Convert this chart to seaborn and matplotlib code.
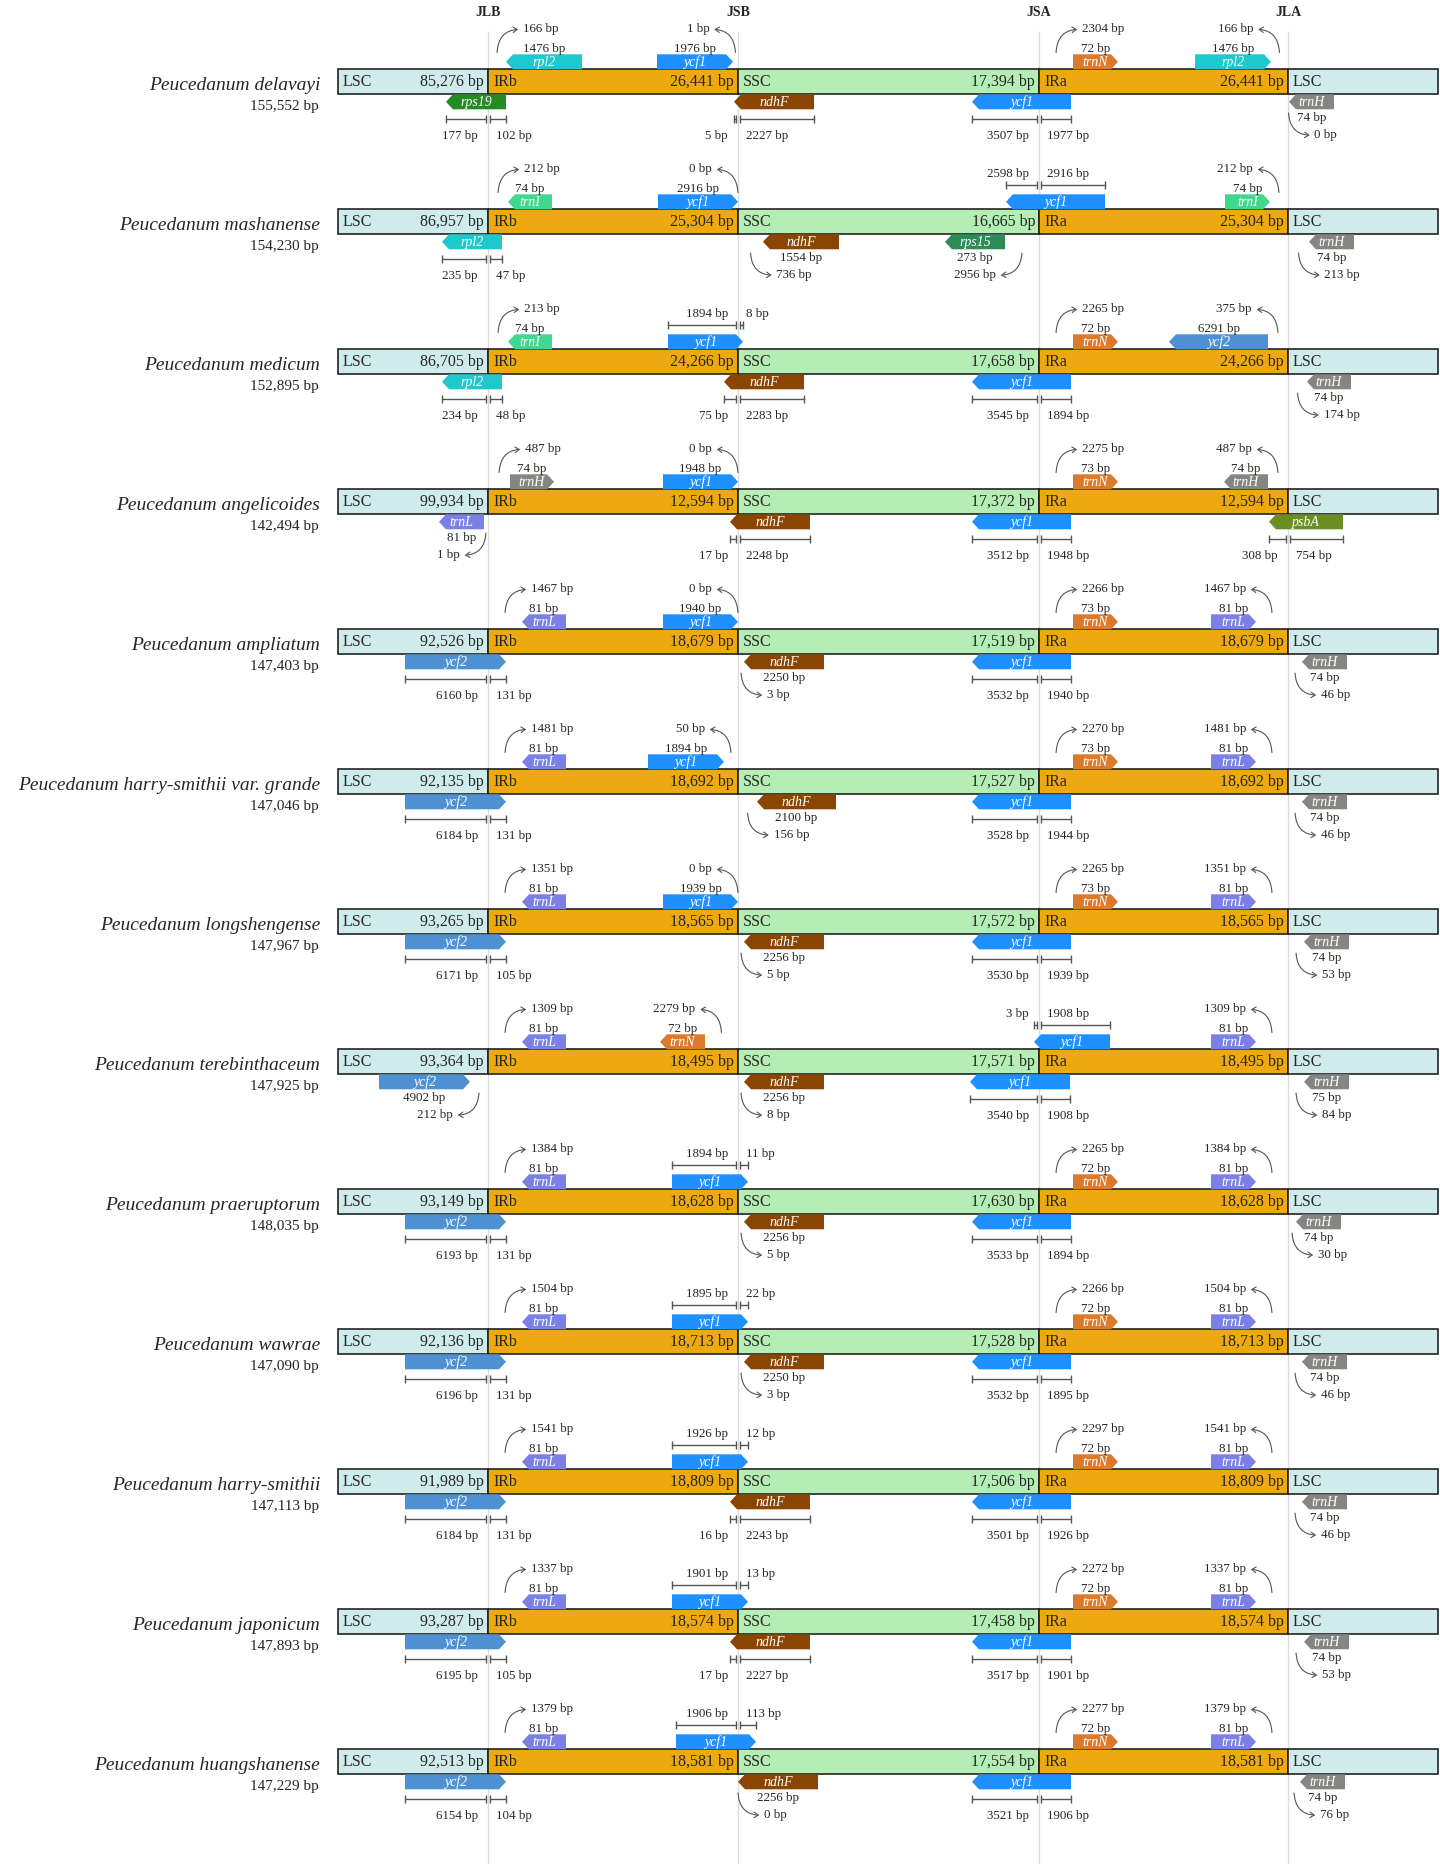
import matplotlib
matplotlib.use("Agg")
import matplotlib.pyplot as plt
from matplotlib.patches import Polygon, FancyArrowPatch
import seaborn as sns

sns.set_theme(style="white")
plt.rcParams['font.family'] = ['Liberation Serif', 'DejaVu Serif']

# genomes
species = ['Peucedanum delavayi', 'Peucedanum mashanense', 'Peucedanum medicum',
           'Peucedanum angelicoides', 'Peucedanum ampliatum',
           'Peucedanum harry-smithii var. grande', 'Peucedanum longshengense',
           'Peucedanum terebinthaceum', 'Peucedanum praeruptorum', 'Peucedanum wawrae',
           'Peucedanum harry-smithii', 'Peucedanum japonicum', 'Peucedanum huangshanense']
genome_bp = [155552, 154230, 152895, 142494, 147403, 147046, 147967, 147925,
             148035, 147090, 147113, 147893, 147229]
lsc_bp = [85276, 86957, 86705, 99934, 92526, 92135, 93265, 93364, 93149, 92136, 91989, 93287, 92513]
irb_bp = [26441, 25304, 24266, 12594, 18679, 18692, 18565, 18495, 18628, 18713, 18809, 18574, 18581]
ssc_bp = [17394, 16665, 17658, 17372, 17519, 17527, 17572, 17571, 17630, 17528, 17506, 17458, 17554]
ira_bp = [26441, 25304, 24266, 12594, 18679, 18692, 18565, 18495, 18628, 18713, 18809, 18574, 18581]

junction_names = ['JLB', 'JSB', 'JSA', 'JLA']
region_names = ['LSC', 'IRb', 'SSC', 'IRa', 'LSC']

# geny: (nazwa, junction, poczatek, koniec, kierunek, tor, dlugosc, odstep / (lewy, prawy))
g_delavayi = [
    ('rpl2', 'JLB', 18, 94, -1, 1, '1476 bp', '166 bp'),
    ('ycf1', 'JSB', -81, -5, 1, 1, '1976 bp', '1 bp'),
    ('rps19', 'JLB', -42, 18, -1, -1, None, ('177 bp', '102 bp')),
    ('ndhF', 'JSB', -4, 76, -1, -1, None, ('5 bp', '2227 bp')),
    ('trnN', 'JSA', 34, 79, 1, 1, '72 bp', '2304 bp'),
    ('rpl2', 'JLA', -93, -17, 1, 1, '1476 bp', '166 bp'),
    ('ycf1', 'JSA', -67, 32, -1, -1, None, ('3507 bp', '1977 bp')),
    ('trnH', 'JLA', 1, 46, -1, -1, '74 bp', '0 bp'),
]
g_mashanense = [
    ('trnI', 'JLB', 20, 64, -1, 1, '74 bp', '212 bp'),
    ('ycf1', 'JSB', -80, 0, 1, 1, '2916 bp', '0 bp'),
    ('rpl2', 'JLB', -46, 14, -1, -1, None, ('235 bp', '47 bp')),
    ('ndhF', 'JSB', 25, 101, -1, -1, '1554 bp', '736 bp'),
    ('rps15', 'JSA', -94, -34, -1, -1, '273 bp', '2956 bp'),
    ('ycf1', 'JSA', -33, 66, -1, 1, None, ('2598 bp', '2916 bp')),
    ('trnI', 'JLA', -63, -18, 1, 1, '74 bp', '212 bp'),
    ('trnH', 'JLA', 21, 66, -1, -1, '74 bp', '213 bp'),
]
g_medicum = [
    ('trnI', 'JLB', 20, 64, -1, 1, '74 bp', '213 bp'),
    ('ycf1', 'JSB', -70, 5, 1, 1, None, ('1894 bp', '8 bp')),
    ('rpl2', 'JLB', -46, 14, -1, -1, None, ('234 bp', '48 bp')),
    ('ndhF', 'JSB', -14, 66, -1, -1, None, ('75 bp', '2283 bp')),
    ('trnN', 'JSA', 34, 79, 1, 1, '72 bp', '2265 bp'),
    ('ycf2', 'JLA', -119, -20, -1, 1, '6291 bp', '375 bp'),
    ('ycf1', 'JSA', -67, 32, -1, -1, None, ('3545 bp', '1894 bp')),
    ('trnH', 'JLA', 19, 63, -1, -1, '74 bp', '174 bp'),
]
g_angelicoides = [
    ('trnH', 'JLB', 22, 66, 1, 1, '74 bp', '487 bp'),
    ('ycf1', 'JSB', -75, 0, 1, 1, '1948 bp', '0 bp'),
    ('trnL', 'JLB', -49, -4, -1, -1, '81 bp', '1 bp'),
    ('ndhF', 'JSB', -8, 72, -1, -1, None, ('17 bp', '2248 bp')),
    ('trnN', 'JSA', 34, 79, 1, 1, '73 bp', '2275 bp'),
    ('trnH', 'JLA', -64, -20, -1, 1, '74 bp', '487 bp'),
    ('ycf1', 'JSA', -67, 32, -1, -1, None, ('3512 bp', '1948 bp')),
    ('psbA', 'JLA', -19, 55, -1, -1, None, ('308 bp', '754 bp')),
]
g_ampliatum = [
    ('trnL', 'JLB', 34, 78, -1, 1, '81 bp', '1467 bp'),
    ('ycf1', 'JSB', -75, 0, 1, 1, '1940 bp', '0 bp'),
    ('ycf2', 'JLB', -83, 18, 1, -1, None, ('6160 bp', '131 bp')),
    ('ndhF', 'JSB', 6, 86, -1, -1, '2250 bp', '3 bp'),
    ('trnN', 'JSA', 34, 79, 1, 1, '73 bp', '2266 bp'),
    ('trnL', 'JLA', -77, -32, 1, 1, '81 bp', '1467 bp'),
    ('ycf1', 'JSA', -67, 32, -1, -1, None, ('3532 bp', '1940 bp')),
    ('trnH', 'JLA', 14, 59, -1, -1, '74 bp', '46 bp'),
]
g_grande = [
    ('trnL', 'JLB', 34, 78, -1, 1, '81 bp', '1481 bp'),
    ('ycf1', 'JSB', -90, -14, 1, 1, '1894 bp', '50 bp'),
    ('ycf2', 'JLB', -83, 18, 1, -1, None, ('6184 bp', '131 bp')),
    ('ndhF', 'JSB', 19, 98, -1, -1, '2100 bp', '156 bp'),
    ('trnN', 'JSA', 34, 79, 1, 1, '73 bp', '2270 bp'),
    ('trnL', 'JLA', -77, -32, 1, 1, '81 bp', '1481 bp'),
    ('ycf1', 'JSA', -67, 32, -1, -1, None, ('3528 bp', '1944 bp')),
    ('trnH', 'JLA', 14, 59, -1, -1, '74 bp', '46 bp'),
]
g_longshengense = [
    ('trnL', 'JLB', 34, 78, -1, 1, '81 bp', '1351 bp'),
    ('ycf1', 'JSB', -75, 0, 1, 1, '1939 bp', '0 bp'),
    ('ycf2', 'JLB', -83, 18, 1, -1, None, ('6171 bp', '105 bp')),
    ('ndhF', 'JSB', 6, 86, -1, -1, '2256 bp', '5 bp'),
    ('trnN', 'JSA', 34, 79, 1, 1, '73 bp', '2265 bp'),
    ('trnL', 'JLA', -77, -32, 1, 1, '81 bp', '1351 bp'),
    ('ycf1', 'JSA', -67, 32, -1, -1, None, ('3530 bp', '1939 bp')),
    ('trnH', 'JLA', 16, 61, -1, -1, '74 bp', '53 bp'),
]
g_terebinthaceum = [
    ('trnL', 'JLB', 34, 78, -1, 1, '81 bp', '1309 bp'),
    ('trnN', 'JSB', -78, -33, -1, 1, '72 bp', '2279 bp'),
    ('ycf2', 'JLB', -109, -18, 1, -1, '4902 bp', '212 bp'),
    ('ndhF', 'JSB', 6, 86, -1, -1, '2256 bp', '8 bp'),
    ('ycf1', 'JSA', -5, 71, -1, 1, None, ('3 bp', '1908 bp')),
    ('trnL', 'JLA', -77, -32, 1, 1, '81 bp', '1309 bp'),
    ('ycf1', 'JSA', -69, 31, -1, -1, None, ('3540 bp', '1908 bp')),
    ('trnH', 'JLA', 16, 61, -1, -1, '75 bp', '84 bp'),
]
g_praeruptorum = [
    ('trnL', 'JLB', 34, 78, -1, 1, '81 bp', '1384 bp'),
    ('ycf1', 'JSB', -66, 10, 1, 1, None, ('1894 bp', '11 bp')),
    ('ycf2', 'JLB', -83, 18, 1, -1, None, ('6193 bp', '131 bp')),
    ('ndhF', 'JSB', 6, 86, -1, -1, '2256 bp', '5 bp'),
    ('trnN', 'JSA', 34, 79, 1, 1, '72 bp', '2265 bp'),
    ('trnL', 'JLA', -77, -32, 1, 1, '81 bp', '1384 bp'),
    ('ycf1', 'JSA', -67, 32, -1, -1, None, ('3533 bp', '1894 bp')),
    ('trnH', 'JLA', 8, 53, -1, -1, '74 bp', '30 bp'),
]
g_wawrae = [
    ('trnL', 'JLB', 34, 78, -1, 1, '81 bp', '1504 bp'),
    ('ycf1', 'JSB', -66, 10, 1, 1, None, ('1895 bp', '22 bp')),
    ('ycf2', 'JLB', -83, 18, 1, -1, None, ('6196 bp', '131 bp')),
    ('ndhF', 'JSB', 6, 86, -1, -1, '2250 bp', '3 bp'),
    ('trnN', 'JSA', 34, 79, 1, 1, '72 bp', '2266 bp'),
    ('trnL', 'JLA', -77, -32, 1, 1, '81 bp', '1504 bp'),
    ('ycf1', 'JSA', -67, 32, -1, -1, None, ('3532 bp', '1895 bp')),
    ('trnH', 'JLA', 14, 59, -1, -1, '74 bp', '46 bp'),
]
g_harry = [
    ('trnL', 'JLB', 34, 78, -1, 1, '81 bp', '1541 bp'),
    ('ycf1', 'JSB', -66, 10, 1, 1, None, ('1926 bp', '12 bp')),
    ('ycf2', 'JLB', -83, 18, 1, -1, None, ('6184 bp', '131 bp')),
    ('ndhF', 'JSB', -8, 72, -1, -1, None, ('16 bp', '2243 bp')),
    ('trnN', 'JSA', 34, 79, 1, 1, '72 bp', '2297 bp'),
    ('trnL', 'JLA', -77, -32, 1, 1, '81 bp', '1541 bp'),
    ('ycf1', 'JSA', -67, 32, -1, -1, None, ('3501 bp', '1926 bp')),
    ('trnH', 'JLA', 14, 59, -1, -1, '74 bp', '46 bp'),
]
g_japonicum = [
    ('trnL', 'JLB', 34, 78, -1, 1, '81 bp', '1337 bp'),
    ('ycf1', 'JSB', -66, 10, 1, 1, None, ('1901 bp', '13 bp')),
    ('ycf2', 'JLB', -83, 18, 1, -1, None, ('6195 bp', '105 bp')),
    ('ndhF', 'JSB', -8, 72, -1, -1, None, ('17 bp', '2227 bp')),
    ('trnN', 'JSA', 34, 79, 1, 1, '72 bp', '2272 bp'),
    ('trnL', 'JLA', -77, -32, 1, 1, '81 bp', '1337 bp'),
    ('ycf1', 'JSA', -67, 32, -1, -1, None, ('3517 bp', '1901 bp')),
    ('trnH', 'JLA', 16, 61, -1, -1, '74 bp', '53 bp'),
]
g_huangshanense = [
    ('trnL', 'JLB', 34, 78, -1, 1, '81 bp', '1379 bp'),
    ('ycf1', 'JSB', -62, 18, 1, 1, None, ('1906 bp', '113 bp')),
    ('ycf2', 'JLB', -83, 18, 1, -1, None, ('6154 bp', '104 bp')),
    ('ndhF', 'JSB', 0, 80, -1, -1, '2256 bp', '0 bp'),
    ('trnN', 'JSA', 34, 79, 1, 1, '72 bp', '2277 bp'),
    ('trnL', 'JLA', -77, -32, 1, 1, '81 bp', '1379 bp'),
    ('ycf1', 'JSA', -67, 32, -1, -1, None, ('3521 bp', '1906 bp')),
    ('trnH', 'JLA', 12, 57, -1, -1, '74 bp', '76 bp'),
]
gene_rows = [g_delavayi, g_mashanense, g_medicum, g_angelicoides, g_ampliatum, g_grande,
             g_longshengense, g_terebinthaceum, g_praeruptorum, g_wawrae, g_harry,
             g_japonicum, g_huangshanense]

# kolory
region_colors = ['#d0ebeb', '#eda90f', '#b4eeb4', '#eda90f', '#d0ebeb']
gene_colors = {'rpl2': '#1fc8cc', 'rps19': '#258b25', 'ycf1': '#1e90ff', 'ndhF': '#8b4500',
               'trnN': '#dc7a2c', 'trnH': '#858582', 'trnI': '#3fd88c', 'rps15': '#2e8b57',
               'ycf2': '#4e91d2', 'trnL': '#7b80e6', 'psbA': '#6b8e23'}

# uklad (piksele)
W, H = 1440, 1864
bar_left = 338
region_widths = [150, 250, 301, 249, 150]
row_top0, row_step, bar_h, gene_h = 69.3, 140, 25, 15
line_col = '#555555'
small = 9.4

fig = plt.figure(figsize=(W / 100, H / 100), dpi=100)
ax = fig.add_axes([0, 0, 1, 1])
ax.set_xlim(0, W)
ax.set_ylim(H, 0)
ax.axis('off')

edges = [bar_left]
for w in region_widths:
    edges.append(edges[-1] + w)
junc_x = dict(zip(junction_names, edges[1:5]))

for name, x in junc_x.items():
    ax.vlines(x, 31, H, color='#dcdcdc', lw=1, zorder=0)
    ax.text(x, 12, name, ha='center', va='center', fontsize=10, fontweight='bold')


def curve(x0, y0, x1, y1):
    ax.add_patch(FancyArrowPatch((x0, y0), (x1, y1), connectionstyle="angle3,angleA=90,angleB=0",
                                 arrowstyle="->,head_length=3,head_width=2", color=line_col,
                                 lw=0.8, zorder=4))


def span(x0, x1, j, y):
    for a, b in [(x0, j - 2), (j + 2, x1)]:
        if b < a:
            continue
        ax.plot([a, b], [y, y], color=line_col, lw=1, zorder=4)
        ax.vlines([a, b], y - 4, y + 4, color=line_col, lw=1, zorder=4)


for i in range(len(species)):
    T = row_top0 + row_step * i
    yc = T + bar_h / 2
    lengths = [lsc_bp[i], irb_bp[i], ssc_bp[i], ira_bp[i]]
    ax.barh(yc, region_widths, left=edges[:-1], height=bar_h, color=region_colors,
            edgecolor='#222222', linewidth=1.2, zorder=2)
    for k in range(5):
        ax.text(edges[k] + 5, yc, region_names[k], ha='left', va='center', fontsize=11.5, zorder=3)
        if k < 4:
            ax.text(edges[k + 1] - 4, yc, f'{lengths[k]:,} bp', ha='right', va='center',
                    fontsize=11.5, zorder=3)
    ax.text(320, yc + 4, species[i], ha='right', va='center', fontsize=14, style='italic')
    ax.text(319, T + 37, f'{genome_bp[i]:,} bp', ha='right', va='center', fontsize=11)

    for name, jn, a, b, d, track, ltxt, note in gene_rows[i]:
        J = junc_x[jn]
        x0, x1 = J + a, J + b
        if track > 0:
            yt, yb = T - gene_h, T
        else:
            yt, yb = T + bar_h, T + bar_h + gene_h
        ym = (yt + yb) / 2
        tip = min(7, (x1 - x0) / 2)
        if d > 0:
            pts = [(x0, yt), (x1 - tip, yt), (x1, ym), (x1 - tip, yb), (x0, yb)]
        else:
            pts = [(x0 + tip, yt), (x1, yt), (x1, yb), (x0 + tip, yb), (x0, ym)]
        ax.add_patch(Polygon(pts, closed=True, fc=gene_colors[name], ec='none', zorder=3))
        ax.text((x0 + x1) / 2, ym + 0.5, name, ha='center', va='center', color='white',
                style='italic', fontsize=10, zorder=4)

        if ltxt is not None:
            ly = T - 20 if track > 0 else T + 49
            ax.text((x0 + x1) / 2, ly, ltxt, ha='center', va='center', fontsize=small)

        if isinstance(note, tuple):
            by, ty = (T - 24, T - 35) if track > 0 else (T + 50, T + 67)
            span(x0, x1, J, by)
            ax.text(J - 10, ty, note[0], ha='right', va='center', fontsize=small)
            ax.text(J + 8, ty, note[1], ha='left', va='center', fontsize=small)
        else:
            side = 1 if (x0 + x1) / 2 > J else -1
            near = x0 if side > 0 else x1
            xs = (J + near) / 2
            if track > 0:
                ys, ye = T - 14, T - 40
            else:
                ys, ye = T + bar_h + 16, T + 66
            curve(xs, ys, xs + side * 24, ye)
            ax.text(xs + side * 26, ye, note, ha='left' if side > 0 else 'right',
                    va='center', fontsize=small)

fig.savefig('out.png', dpi=100, facecolor='white')
